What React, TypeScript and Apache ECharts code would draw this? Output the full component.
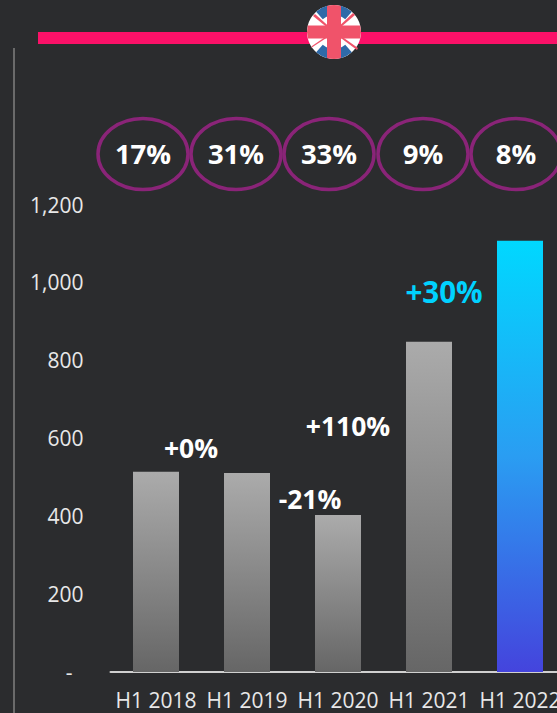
import React, { useEffect, useRef } from "react";
import * as echarts from "echarts";

const categories = ["H1 2018", "H1 2019", "H1 2020", "H1 2021", "H1 2022"];
const revenue = [514, 511, 403, 848, 1107];
const shares = ["17%", "31%", "33%", "9%", "8%"];
const growthLabels = ["+0%", "-21%", "+110%", "+30%"];
const yTicks = { min: 0, max: 1200, interval: 200 };

const FONT = "'Open Sans', sans-serif";
const BG = "#2b2c2e";
const FLAG_RED = "#f0536a";
const FLAG_BLUE = "#2f6aa8";

// Cross of the flag, trimmed to a circle of radius 27 centred on (27, 27)
echarts.graphic.registerShape(
  "flagCross",
  echarts.graphic.extendPath(
    "M20 0.93 A27 27 0 0 1 34 0.93 L34 20.5 L53.2 20.5 A27 27 0 0 1 53.2 33.5 L34 33.5 L34 53.07 A27 27 0 0 1 20 53.07 L20 33.5 L0.8 33.5 A27 27 0 0 1 0.8 20.5 L20 20.5 Z",
    {}
  )
);

const FLAG_X = 334;
const FLAG_Y = 32;

function flagElements() {
  const blueWedges = [
    [Math.PI * 1.27, Math.PI * 1.42],
    [Math.PI * 1.58, Math.PI * 1.73],
    [Math.PI * 0.27, Math.PI * 0.42],
    [Math.PI * 0.58, Math.PI * 0.73],
  ];
  const diagonals = [
    [[-21, -16], [-19, -18], [0, -1], [0, 1]],
    [[21, -17], [19, -19], [0, -1], [0, 1]],
    [[-23, 16], [-22, 14], [0, -1], [0, 1]],
    [[23, 18], [24, 16], [0, -1], [0, 1]],
  ];
  return [
    { type: "circle", shape: { cx: FLAG_X, cy: FLAG_Y, r: 27 }, style: { fill: "#ffffff" } },
    ...blueWedges.map(([startAngle, endAngle]) => ({
      type: "sector",
      shape: { cx: FLAG_X, cy: FLAG_Y, r0: 17, r: 27, startAngle, endAngle },
      style: { fill: FLAG_BLUE },
    })),
    ...diagonals.map((pts) => ({
      type: "polygon",
      shape: { points: pts.map(([x, y]) => [FLAG_X + x, FLAG_Y + y]) },
      style: { fill: FLAG_RED },
    })),
    { type: "flagCross", x: FLAG_X - 27, y: FLAG_Y - 27, style: { fill: FLAG_RED } },
  ];
}

const shareCentres = [143, 236, 329, 423, 516];
const growthSpots = [
  [191, 447.5, "#ffffff", 26.5],
  [310, 498.5, "#ffffff", 26.5],
  [348, 425.5, "#ffffff", 26.5],
  [444, 291, "#00d2ff", 29.5],
];

function boldText(text: string, x: number, y: number, fill: string, size: number) {
  return {
    type: "text",
    x,
    y,
    style: { text, fill, font: `700 ${size}px ${FONT}`, align: "center", verticalAlign: "middle" },
  };
}

export default function App() {
  const ref = useRef<HTMLDivElement>(null);

  useEffect(() => {
    const chart = echarts.init(ref.current!, null, { renderer: "svg" });
    chart.setOption({
      animation: false,
      backgroundColor: BG,
      grid: { left: 110.5, right: 0.5, top: 204.5, bottom: 41 },
      xAxis: {
        type: "category",
        data: categories,
        axisLine: { lineStyle: { color: "#d0d0d0", width: 2 } },
        axisTick: { show: false },
        axisLabel: { color: "#e8e8e8", fontFamily: FONT, fontSize: 21, margin: 17, interval: 0 },
      },
      yAxis: {
        type: "value",
        ...yTicks,
        splitLine: { show: false },
        axisLine: { show: false },
        axisTick: { show: false },
        axisLabel: {
          color: "#e8e8e8",
          fontFamily: FONT,
          fontSize: 21,
          margin: 27,
          formatter: (v: number) => (v === 0 ? "{dash|-}" : v.toLocaleString("en-US")),
          rich: { dash: { padding: [0, 11, 0, 0], fontSize: 21, fontFamily: FONT, color: "#e8e8e8" } },
        },
      },
      series: [
        {
          type: "bar",
          barWidth: 46,
          data: revenue.map((value, i) => ({
            value,
            itemStyle: {
              color: new echarts.graphic.LinearGradient(
                0, 0, 0, 1,
                i === revenue.length - 1
                  ? [{ offset: 0, color: "#00d8ff" }, { offset: 0.5, color: "#2a9df2" }, { offset: 1, color: "#4444dd" }]
                  : [{ offset: 0, color: "#ababab" }, { offset: 1, color: "#666666" }]
              ),
            },
          })),
        },
      ],
      graphic: [
        { type: "line", shape: { x1: 14, y1: 48, x2: 14, y2: 713 }, style: { stroke: "#6a6a6a", lineWidth: 2 } },
        { type: "rect", shape: { x: 38, y: 32, width: 528, height: 12 }, style: { fill: "#fb1168" } },
        ...flagElements(),
        ...shares.flatMap((text, i) => [
          {
            type: "ellipse",
            shape: { cx: shareCentres[i], cy: 154, rx: 45, ry: 35.5 },
            style: { fill: "none", stroke: "#8a2478", lineWidth: 3.5 },
          },
          boldText(text, shareCentres[i], 153, "#ffffff", 27.5),
        ]),
        ...growthLabels.map((text, i) =>
          boldText(text, growthSpots[i][0] as number, growthSpots[i][1] as number, growthSpots[i][2] as string, growthSpots[i][3] as number)
        ),
      ],
    });
    return () => chart.dispose();
  }, []);

  // The last category runs slightly past the right edge of the page, as does the banner
  return (
    <div style={{ position: "fixed", left: 0, top: 0, width: 557, height: 713, overflow: "hidden" }}>
      <div ref={ref} style={{ width: 566, height: 713 }} />
    </div>
  );
}
